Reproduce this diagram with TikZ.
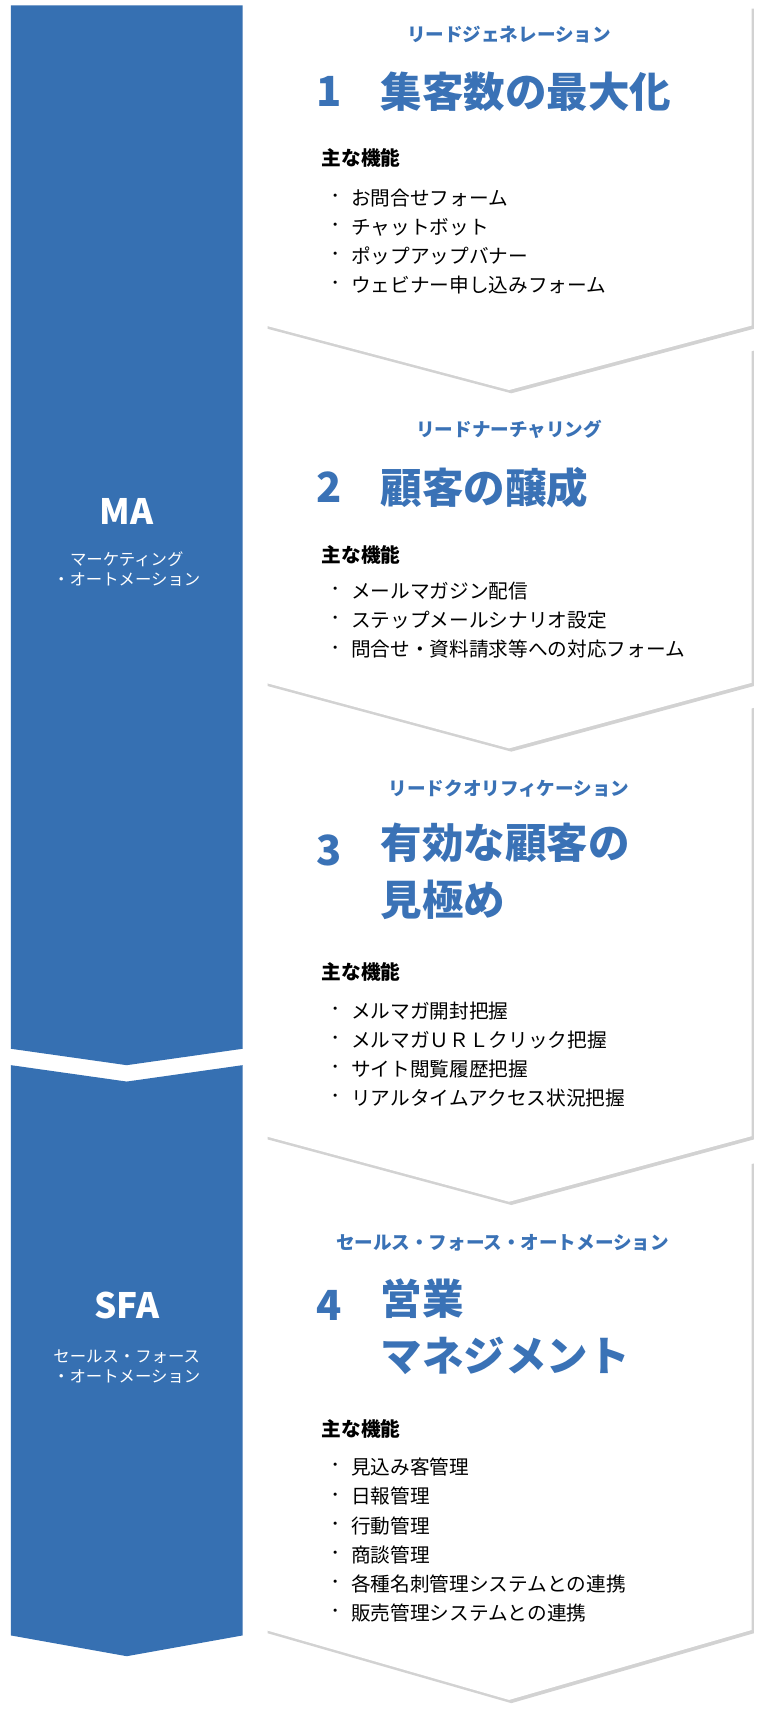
\documentclass[tikz,border=0pt]{standalone}
\usepackage{fontspec}
\newfontfamily\jp{Noto Sans CJK JP}
\usetikzlibrary{shadows}
\definecolor{mablue}{HTML}{3670B2}
\definecolor{ttl}{HTML}{3A72B6}
\tikzset{
 panel/.style={fill=white,drop shadow={shadow xshift=2pt,shadow yshift=-3pt,opacity=0.35,fill=gray}},
 bar/.style={fill=mablue},
 sub/.style={font=\jp\fontsize{17}{20}\selectfont\bfseries,text=ttl,anchor=center},
 ttlnum/.style={font=\jp\fontsize{38}{44}\selectfont\bfseries,text=ttl,anchor=west},
 ttltext/.style={font=\jp\fontsize{38}{52}\selectfont\bfseries,text=ttl,anchor=north west,align=left},
 head/.style={font=\jp\fontsize{18}{22}\selectfont\bfseries,anchor=west},
 item/.style={font=\jp\fontsize{18}{22}\selectfont,anchor=west},
 dot/.style={font=\jp\fontsize{14}{16}\selectfont,anchor=center},
 big/.style={font=\jp\fontsize{32}{36}\selectfont\bfseries,text=white},
 small/.style={font=\jp\fontsize{15}{18}\selectfont,text=white,align=center},
}
\newcommand{\items}[2]{%
 \foreach \t [count=\i from 0] in {#2} {
  \node[dot] at (307,#1+\i*26.7) {・};
  \node[item] at (318,#1+\i*26.7) {\t};
 }}
\begin{document}
\begin{tikzpicture}[x=1pt,y=-1pt]
\useasboundingbox[fill=white] (0,0) rectangle (695,1568);
% blue bar
\fill[bar] (10,5) -- (222,5) -- (222,960) -- (116,975) -- (10,960) -- cycle;
\fill[bar] (10,975) -- (116,990) -- (222,975) -- (222,1497) -- (116,1516) -- (10,1497) -- cycle;
\node[big] (ma) at (116,468) {MA};
\node[small] (mas) at (116,521) {マーケティング\\・オートメーション};
\node[big] (sfa) at (116,1195) {SFA};
\node[small] (sfas) at (116,1251) {セールス・フォース\\・オートメーション};
% panels (bottom first)
\path[panel] (243,1062) -- (466,1120) -- (688,1062) -- (688,1492) -- (466,1556) -- (243,1492) -- cycle;
\path[panel] (243,645) -- (466,705) -- (688,645) -- (688,1040) -- (466,1100) -- (243,1040) -- cycle;
\path[panel] (243,318) -- (466,376) -- (688,318) -- (688,625) -- (466,685) -- (243,625) -- cycle;
\path[panel] (243,5) -- (688,5) -- (688,298) -- (466,357) -- (243,298) -- cycle;
% panel 1
\node[sub] (s1) at (466,32) {リードジェネレーション};
\node[ttlnum] (n1) at (286,84) {1};
\node[ttltext,anchor=west] (t1) at (345,84) {集客数の最大化};
\node[head] (h1) at (291,145) {主な機能};
\items{181}{お問合せフォーム,チャットボット,ポップアップバナー,ウェビナー申し込みフォーム}
% panel 2
\node[sub] (s2) at (466,393) {リードナーチャリング};
\node[ttlnum] (n2) at (286,446) {2};
\node[ttltext,anchor=west] (t2) at (345,446) {顧客の醸成};
\node[head] (h2) at (291,508) {主な機能};
\items{541}{メールマガジン配信,ステップメールシナリオ設定,問合せ・資料請求等への対応フォーム}
% panel 3
\node[sub] (s3) at (466,722) {リードクオリフィケーション};
\node[ttlnum] (n3) at (286,778) {3};
\node[ttltext] (t3) at (345,750) {有効な顧客の\\見極め};
\node[head] (h3) at (291,890) {主な機能};
\items{925}{メルマガ開封把握,メルマガＵＲＬクリック把握,サイト閲覧履歴把握,リアルタイムアクセス状況把握}
% panel 4
\node[sub] (s4) at (460,1138) {セールス・フォース・オートメーション};
\node[ttlnum] (n4) at (286,1195) {4};
\node[ttltext] (t4) at (345,1167) {営業\\マネジメント};
\node[head] (h4) at (291,1308) {主な機能};
\items{1343}{見込み客管理,日報管理,行動管理,商談管理,各種名刺管理システムとの連携,販売管理システムとの連携}
\end{tikzpicture}
\end{document}
